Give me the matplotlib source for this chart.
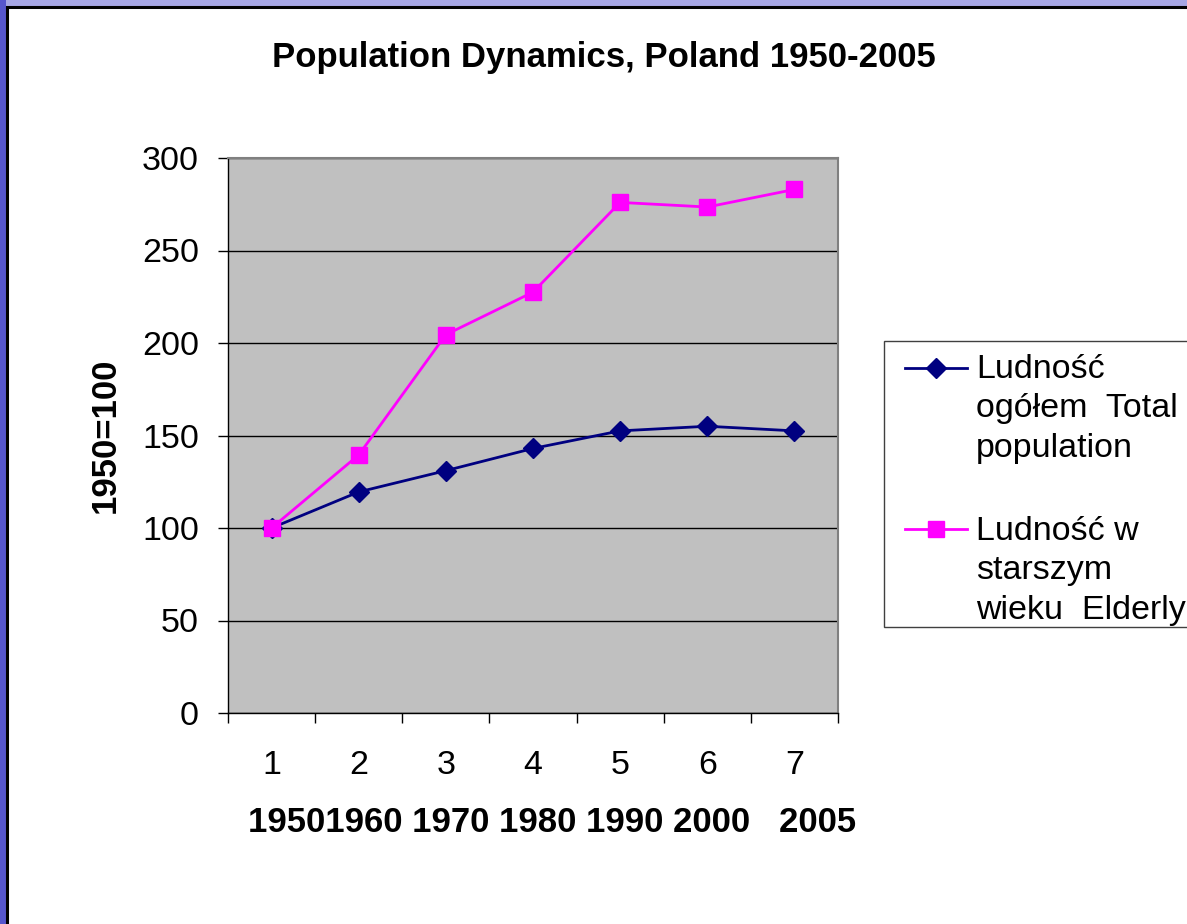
import matplotlib
matplotlib.use("Agg")
import matplotlib.pyplot as plt
from matplotlib.patches import Rectangle
from matplotlib.lines import Line2D
import numpy as np

plt.rcParams['font.family'] = ['Liberation Sans', 'DejaVu Sans']

# data (index 1950 = 100)
categories = ["1", "2", "3", "4", "5", "6", "7"]
years = ["1950", "1960", "1970", "1980", "1990", "2000", "2005"]
total_pop = [100, 119.5, 131, 143, 152.5, 155, 152.5]
elderly_pop = [100, 139.5, 204.5, 227.5, 276, 273.5, 283]
yticks = [0, 50, 100, 150, 200, 250, 300]
title = "Population Dynamics, Poland 1950-2005"
ylabel = "1950=100"
legend_labels = [["Ludność", "ogółem  Total", "population"],
                 ["Ludność w", "starszym", "wieku  Elderly"]]

W, H = 1187, 924
fig = plt.figure(figsize=(W / 100, H / 100), dpi=100)
fig.patch.set_facecolor('#8a8ad6')


def fx(px):
    return px / W


def fy(py):
    return 1 - py / H


# slide background strips + white frame (drawn under the axes)
fig.add_artist(Rectangle((0, fy(7)), 1, 1, transform=fig.transFigure,
                         facecolor='#a6a6e4', edgecolor='none', zorder=-12))
fig.add_artist(Rectangle((0, 0), fx(6), 1, transform=fig.transFigure,
                         facecolor='#5656cc', edgecolor='none', zorder=-12))
fig.add_artist(Rectangle((fx(7), -0.05), 1.1, fy(7) + 0.05, transform=fig.transFigure,
                         facecolor='white', edgecolor='black', lw=2.2, zorder=-10))

ax = fig.add_axes([fx(228), fy(713), fx(838) - fx(228), fy(158) - fy(713)])
ax.set_facecolor('#c0c0c0')

blue_style = dict(color='#000080', marker='D', ms=10.5)
pink_style = dict(color='#ff00ff', marker='s', ms=11)

x = np.arange(len(categories))
for vals, st in [(total_pop, blue_style), (elderly_pop, pink_style)]:
    ax.plot(x, vals, color=st['color'], lw=2, marker=st['marker'], ms=st['ms'],
            mfc=st['color'], mec=st['color'], zorder=3)

ax.set_xlim(-0.5, len(categories) - 0.5)
ax.set_ylim(0, 300)
ax.set_yticks(yticks)
ax.yaxis.grid(True, color='black', lw=1)
ax.set_axisbelow(True)

ax.set_xticks(x)
ax.set_xticklabels(categories)
ax.set_xticks(np.arange(len(categories) + 1) - 0.5, minor=True)
ax.tick_params(axis='x', which='major', length=0, pad=27, labelsize=24.5)
ax.tick_params(axis='x', which='minor', length=7, width=1, color='black')
ax.tick_params(axis='y', length=7, width=1, pad=14, labelsize=24.5)

for side in ['left', 'bottom']:
    ax.spines[side].set_color('black')
    ax.spines[side].set_linewidth(1)
for side in ['top', 'right']:
    ax.spines[side].set_color('#808080')
    ax.spines[side].set_linewidth(1.5)

fig.text(fx(604), fy(58), title, ha='center', va='center',
         fontsize=25, fontweight='bold')
fig.text(fx(105), fy(435), ylabel, rotation=90, ha='center', va='center',
         fontsize=25, fontweight='bold')
year_line = years[0] + years[1] + " " + " ".join(years[2:6]) + "   " + years[6]
fig.text(fx(552), fy(822), year_line, ha='center', va='center',
         fontsize=25, fontweight='bold')

# legend box (right side runs off the slide)
fig.add_artist(Rectangle((fx(884), fy(627)), 0.5, fy(341) - fy(627),
                         transform=fig.transFigure, facecolor='white',
                         edgecolor='#404040', lw=1))
handle_y = [368, 529]
first_base = [378, 540]
for st, hy, fb, lines in zip([blue_style, pink_style], handle_y, first_base, legend_labels):
    fig.add_artist(Line2D([fx(905), fx(967)], [fy(hy), fy(hy)],
                          transform=fig.transFigure, color=st['color'], lw=2))
    fig.add_artist(Line2D([fx(936)], [fy(hy)], transform=fig.transFigure,
                          color=st['color'], marker=st['marker'], ms=st['ms'],
                          mfc=st['color'], mec=st['color']))
    for i, line in enumerate(lines):
        fig.text(fx(976), fy(fb + 39.5 * i), line, ha='left', va='baseline',
                 fontsize=24.5)

fig.savefig("out.png", dpi=100, facecolor=fig.get_facecolor())
